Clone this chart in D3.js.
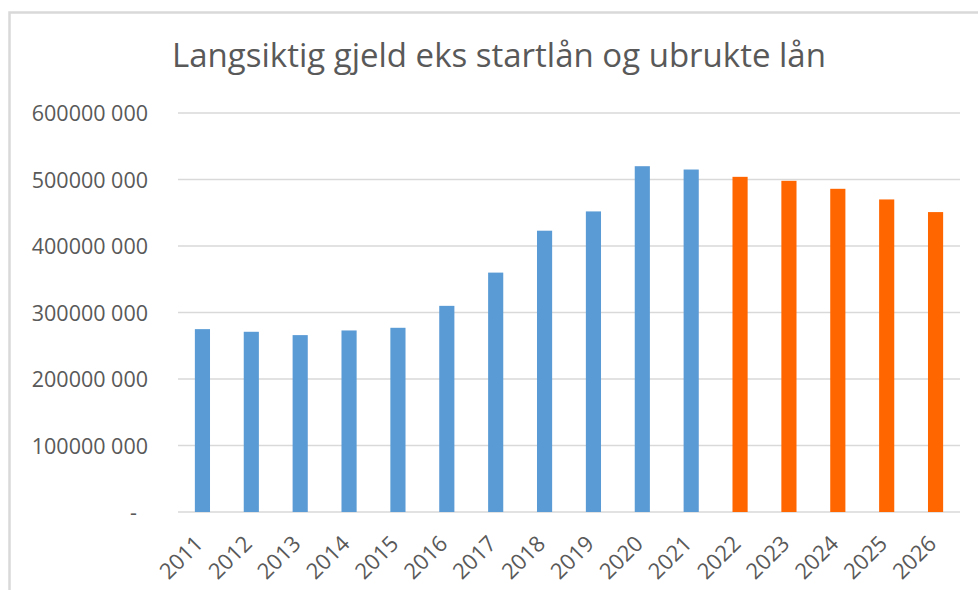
<!DOCTYPE html>
<html>
<head>
<meta charset="utf-8">
<script src="https://cdn.jsdelivr.net/npm/d3@7"></script>
<style>
    body { margin: 0; background: #fff; }
    text { font-family: "Open Sans", "Noto Sans", sans-serif; fill: #595959; }
</style>
</head>
<body>
<div id="chart"></div>
<script>
const years = ['2011', '2012', '2013', '2014', '2015', '2016', '2017', '2018',
    '2019', '2020', '2021', '2022', '2023', '2024', '2025', '2026'];
const debt = [275e6, 271e6, 266e6, 273e6, 277e6, 310e6, 360e6, 423e6,
    452e6, 520e6, 515e6, 504e6, 498e6, 486e6, 470e6, 451e6];
const firstForecast = '2022';
const yTicks = [0, 100e6, 200e6, 300e6, 400e6, 500e6, 600e6];
const yTickLabels = ['-', '100000 000', '200000 000', '300000 000', '400000 000', '500000 000', '600000 000'];
const title = 'Langsiktig gjeld eks startlån og ubrukte lån';

const width = 978;
const height = 590;
const margin = { top: 113, right: 18, bottom: 78, left: 178 };

const svg = d3.select('#chart').append('svg')
    .attr('width', width)
    .attr('height', height);

// chart frame
svg.append('rect')
    .attr('x', 9.5)
    .attr('y', 12.5)
    .attr('width', width + 20)
    .attr('height', height + 20)
    .attr('fill', 'none')
    .attr('stroke', '#d9d9d9')
    .attr('stroke-width', 2.5);

const titleText = svg.append('text')
    .attr('x', 499)
    .attr('y', 67)
    .attr('text-anchor', 'middle')
    .style('font-size', '32px')
    .text(title);
// squeeze to the width of the original title
const tw = titleText.node().getComputedTextLength();
titleText.style('font-size', (32 * 654 / tw) + 'px');

const x = d3.scaleBand()
    .domain(years)
    .range([margin.left, width - margin.right])
    .paddingInner(0.69)
    .paddingOuter(0.345);

const y = d3.scaleLinear()
    .domain([0, 600e6])
    .range([height - margin.bottom, margin.top]);

// gridlines
svg.append('g')
    .selectAll('line')
    .data(yTicks)
    .join('line')
    .attr('x1', margin.left)
    .attr('x2', width - margin.right)
    .attr('y1', d => y(d))
    .attr('y2', d => y(d))
    .attr('stroke', '#d9d9d9')
    .attr('stroke-width', 1.5);

const yAxis = d3.axisLeft(y)
    .tickValues(yTicks)
    .tickSize(0)
    .tickPadding(0)
    .tickFormat((d, i) => yTickLabels[i]);

const yG = svg.append('g')
    .attr('transform', `translate(148,0)`)
    .call(yAxis);
yG.select('.domain').remove();
yG.selectAll('text')
    .style('font-size', '21.5px')
    .attr('fill', '#595959')
    .attr('dy', '0.36em')
    .attr('dx', d => d === 0 ? -11 : 0);

// bars
svg.append('g')
    .selectAll('rect')
    .data(years)
    .join('rect')
    .attr('x', d => x(d))
    .attr('width', x.bandwidth())
    .attr('y', (d, i) => y(debt[i]))
    .attr('height', (d, i) => y(0) - y(debt[i]))
    .attr('fill', d => d >= firstForecast ? '#ff6600' : '#5b9bd5');

const xAxis = d3.axisBottom(x).tickSize(0).tickPadding(0);
const xG = svg.append('g')
    .attr('transform', `translate(0,${y(0)})`)
    .call(xAxis);
xG.select('.domain').remove();
xG.selectAll('text')
    .style('font-size', '22px')
    .attr('fill', '#595959')
    .attr('text-anchor', 'end')
    .attr('dy', 0)
    .attr('y', 0)
    .attr('transform', 'translate(2,33) rotate(-45)');
</script>
</body>
</html>
